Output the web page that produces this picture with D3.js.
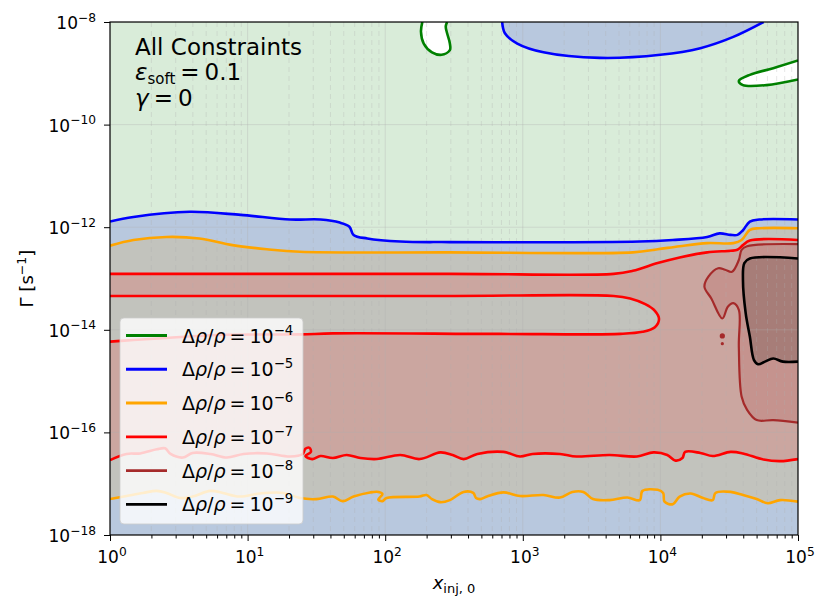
<!DOCTYPE html>
<html>
<head>
<meta charset="utf-8">
<script src="https://cdn.jsdelivr.net/npm/d3@7"></script>
<style>
  body { margin: 0; background: #fff; }
  text { font-family: "DejaVu Sans", sans-serif; fill: #000; }
</style>
</head>
<body>
<svg id="chart" width="830" height="611"></svg>
<script>
/* Contour levels of the energy-injection constraint map.
   Every contour point is [log10 x_inj,0 , log10 Gamma]. */

const levels = [-4, -5, -6, -7, -8, -9];
const levelColors = ['green', 'blue', 'orange', 'red', 'brown', 'black'];

const xTicks = [0, 1, 2, 3, 4, 5];
const yTicks = [-8, -10, -12, -14, -16, -18];

// 1e-4 : two small islands where the constraint is not reached
const greenLoopTop = [[2.27, -8.0], [2.26, -8.19], [2.28, -8.42], [2.34, -8.59], [2.41, -8.64],
  [2.47, -8.55], [2.47, -8.42], [2.45, -8.22], [2.44, -8.09], [2.45, -8.0]];
const greenLoopRight = [[5, -8.75], [4.82, -8.9], [4.65, -9.03], [4.57, -9.15], [4.6, -9.23],
  [4.77, -9.23], [5, -9.12]];

// 1e-5
const blueLine = [[0, -11.89], [0.17, -11.8], [0.58, -11.7], [0.95, -11.76], [1.31, -11.85],
  [1.53, -11.85], [1.67, -11.91], [1.74, -11.99], [1.77, -12.15], [1.87, -12.22], [2.11, -12.28],
  [2.47, -12.29], [3.85, -12.28], [4.09, -12.25], [4.34, -12.19], [4.43, -12.12], [4.51, -12.15],
  [4.56, -12.15], [4.6, -12.06], [4.65, -11.89], [4.72, -11.85], [5, -11.85]];
const blueCap = [[2.85, -8.0], [2.87, -8.22], [2.96, -8.42], [3.15, -8.59], [3.56, -8.7],
  [4.0, -8.64], [4.29, -8.51], [4.53, -8.29], [4.75, -8.0]];

// 1e-6
const orangeUpper = [[0, -12.36], [0.17, -12.25], [0.41, -12.19], [0.65, -12.22], [0.89, -12.35],
  [1.14, -12.43], [1.38, -12.48], [2.47, -12.49], [3.8, -12.49], [3.98, -12.43], [4.14, -12.37],
  [4.34, -12.31], [4.53, -12.31], [4.59, -12.25], [4.65, -12.05], [4.72, -12.02], [5, -12.02]];
const orangeLower = [[0, -17.3], [0.12, -17.24], [0.24, -17.18], [0.34, -17.14], [0.41, -17.18],
  [0.51, -17.28], [0.6, -17.25], [0.73, -17.14], [0.82, -17.18], [0.94, -17.25], [1.09, -17.19],
  [1.26, -17.18], [1.38, -17.28], [1.5, -17.3], [1.62, -17.25], [1.69, -17.34], [1.77, -17.25],
  [1.89, -17.17], [1.95, -17.16], [1.98, -17.2], [1.95, -17.31], [1.98, -17.34], [2.01, -17.28],
  [2.25, -17.25], [2.3, -17.22], [2.34, -17.3], [2.4, -17.36], [2.47, -17.32], [2.57, -17.16],
  [2.64, -17.18], [2.66, -17.28], [2.69, -17.3], [2.74, -17.25], [2.86, -17.17], [2.98, -17.24],
  [3.15, -17.22], [3.27, -17.27], [3.36, -17.16], [3.44, -17.16], [3.51, -17.3], [3.63, -17.32],
  [3.76, -17.27], [3.85, -17.32], [3.87, -17.14], [3.98, -17.12], [4.02, -17.18], [4.03, -17.35],
  [4.09, -17.4], [4.14, -17.25], [4.22, -17.19], [4.31, -17.28], [4.38, -17.32], [4.4, -17.18],
  [4.51, -17.16], [4.6, -17.22], [4.7, -17.3], [4.78, -17.38], [4.87, -17.32], [5, -17.35]];

// 1e-7
const redUpper = [[0, -12.91], [2.47, -12.91], [3.66, -12.91], [3.8, -12.85], [3.98, -12.7],
  [4.14, -12.59], [4.34, -12.49], [4.51, -12.46], [4.56, -12.44], [4.6, -12.35], [4.65, -12.26],
  [5, -12.25]];
const redTongue = [[0, -13.34], [2.47, -13.34], [3.66, -13.34], [3.78, -13.39], [3.89, -13.5],
  [3.96, -13.63], [3.99, -13.79], [3.96, -13.95], [3.87, -14.04], [3.71, -14.08], [2.83, -14.08],
  [1.62, -14.07], [1.38, -14.09], [0.78, -14.1], [0.41, -14.16], [0.17, -14.2], [0, -14.23]];
const redLower = [[0, -16.54], [0.12, -16.42], [0.22, -16.41], [0.34, -16.33], [0.4, -16.31],
  [0.44, -16.42], [0.53, -16.49], [0.6, -16.4], [0.73, -16.42], [0.85, -16.49], [0.97, -16.42],
  [1.14, -16.41], [1.31, -16.47], [1.4, -16.42], [1.42, -16.32], [1.45, -16.3], [1.46, -16.38],
  [1.42, -16.46], [1.47, -16.52], [1.53, -16.46], [1.62, -16.5], [1.72, -16.44], [1.82, -16.5],
  [1.94, -16.52], [2.11, -16.44], [2.25, -16.52], [2.4, -16.39], [2.49, -16.44], [2.57, -16.52],
  [2.67, -16.42], [2.86, -16.38], [2.98, -16.47], [3.07, -16.42], [3.27, -16.42], [3.39, -16.47],
  [3.63, -16.44], [3.83, -16.47], [3.95, -16.39], [4.05, -16.44], [4.11, -16.55], [4.16, -16.5],
  [4.18, -16.38], [4.29, -16.4], [4.38, -16.46], [4.51, -16.38], [4.6, -16.41], [4.75, -16.53],
  [4.87, -16.56], [5, -16.52]];

// 1e-8
const brownLine = [[5, -12.33], [4.63, -12.37], [4.59, -12.44], [4.57, -12.64], [4.52, -12.87],
  [4.47, -12.83], [4.42, -12.8], [4.35, -12.96], [4.32, -13.16], [4.37, -13.39], [4.45, -13.78],
  [4.49, -13.55], [4.53, -13.48], [4.57, -13.61], [4.57, -14.33], [4.59, -15.3], [4.63, -15.56],
  [4.7, -15.76], [4.82, -15.76], [5, -15.81]];
const brownSpots = [[4.45, -14.12], [4.45, -14.27]];

// 1e-9
const blackLine = [[5, -12.61], [4.65, -12.61], [4.61, -12.7], [4.6, -13.03], [4.62, -13.68],
  [4.65, -14.13], [4.68, -14.59], [4.71, -14.67], [4.76, -14.62], [4.82, -14.56], [4.89, -14.62],
  [5, -14.62]];

const W = 830, H = 611;
const margin = { left: 110, right: 32, top: 22, bottom: 76 };

const svg = d3.select('#chart');
const x = d3.scaleLog().domain([1, 1e5]).range([margin.left, W - margin.right]);
const y = d3.scaleLog().domain([1e-18, 1e-8]).range([H - margin.bottom, margin.top]);
const [x0, x1] = x.range();
const [y0, y1] = [y.range()[1], y.range()[0]];

const curve = d3.line()
  .x(d => x(10 ** d[0]))
  .y(d => y(10 ** d[1]))
  .curve(d3.curveCatmullRom.alpha(0.5));
const join = (a, b) => curve(a) + 'L' + curve(b).slice(1);
const rev = a => a.slice().reverse();

svg.append('defs').append('clipPath').attr('id', 'plot-clip')
  .append('rect').attr('x', x0).attr('y', y0).attr('width', x1 - x0).attr('height', y1 - y0);

const plot = svg.append('g').attr('clip-path', 'url(#plot-clip)');
const fillAlpha = 0.15;

// filled regions, stacked like contourf with alpha
const box = `M${x0},${y0}H${x1}V${y1}H${x0}Z`;
const fills = [
  { color: 'green', d: box + curve(greenLoopTop) + 'Z' + curve(greenLoopRight) + 'Z' },
  { color: 'blue', d: curve(blueCap) + 'Z' + curve(blueLine) + `L${x1},${y1}L${x0},${y1}Z` },
  { color: 'orange', d: join(orangeUpper, rev(orangeLower)) + 'Z' },
  { color: 'red', d: join(redUpper, rev(redLower)) + 'Z' + curve(redTongue) + 'Z' },
  { color: 'brown', d: curve(brownLine) + 'Z' },
  { color: 'black', d: curve(blackLine) + 'Z' },
];
plot.selectAll('path.fill').data(fills).join('path')
  .attr('class', 'fill')
  .attr('d', d => d.d)
  .attr('fill', d => d.color)
  .attr('fill-opacity', fillAlpha)
  .attr('fill-rule', 'evenodd');
plot.selectAll('circle.spot').data(brownSpots).join('circle')
  .attr('cx', d => x(10 ** d[0]))
  .attr('cy', d => y(10 ** d[1]))
  .attr('r', (d, i) => (i ? 1.6 : 2.6))
  .attr('fill', 'brown');

// grid
const minorX = [];
for (let e = 0; e < 5; e++) for (let m = 2; m < 10; m++) minorX.push(m * 10 ** e);
const grid = plot.append('g');
grid.selectAll('line.minor').data(minorX).join('line')
  .attr('x1', d => x(d)).attr('x2', d => x(d)).attr('y1', y0).attr('y2', y1)
  .attr('stroke', '#b0b0b0').attr('stroke-opacity', 0.3)
  .attr('stroke-dasharray', '5,4').attr('stroke-width', 1);
grid.selectAll('line.vx').data(xTicks).join('line')
  .attr('x1', d => x(10 ** d)).attr('x2', d => x(10 ** d)).attr('y1', y0).attr('y2', y1)
  .attr('stroke', '#b0b0b0').attr('stroke-opacity', 0.35);
grid.selectAll('line.hy').data(yTicks).join('line')
  .attr('y1', d => y(10 ** d)).attr('y2', d => y(10 ** d)).attr('x1', x0).attr('x2', x1)
  .attr('stroke', '#b0b0b0').attr('stroke-opacity', 0.35);

// contour lines
const lines = [
  { color: 'green', d: greenLoopTop }, { color: 'green', d: greenLoopRight },
  { color: 'blue', d: blueLine }, { color: 'blue', d: blueCap },
  { color: 'orange', d: orangeUpper }, { color: 'orange', d: orangeLower },
  { color: 'red', d: redUpper }, { color: 'red', d: redTongue }, { color: 'red', d: redLower },
  { color: 'brown', d: brownLine }, { color: 'black', d: blackLine },
];
plot.selectAll('path.level').data(lines).join('path')
  .attr('class', 'level')
  .attr('d', d => curve(d.d))
  .attr('fill', 'none')
  .attr('stroke', d => d.color)
  .attr('stroke-width', d => (d.color === 'brown' ? 2.2 : 2.6))
  .attr('stroke-linejoin', 'round');

// axes
function powerLabel(sel, exp, size) {
  sel.text(null);
  sel.append('tspan').text('10');
  sel.append('tspan')
    .attr('font-size', size * 0.72)
    .attr('dy', -size * 0.44)
    .text(exp < 0 ? '\u2212' + (-exp) : String(exp));
}

const tickFont = 17;
const xAxis = svg.append('g').attr('transform', `translate(0,${y1})`)
  .call(d3.axisBottom(x).tickValues(xTicks.map(e => 10 ** e)).tickSize(6).tickFormat(''));
xAxis.append('g').call(d3.axisBottom(x).tickValues(minorX).tickSize(3.5).tickFormat(''));
xAxis.selectAll('.domain').remove();
xAxis.selectAll('line').attr('stroke', '#000').attr('stroke-width', 1);
xAxis.selectAll('text.lab').data(xTicks).join('text')
  .attr('class', 'lab')
  .attr('x', d => x(10 ** d) + 2)
  .attr('y', 28)
  .attr('text-anchor', 'middle')
  .attr('font-size', tickFont)
  .each(function (d) { powerLabel(d3.select(this), d, tickFont); });

const yAxis = svg.append('g').attr('transform', `translate(${x0},0)`)
  .call(d3.axisLeft(y).tickValues(yTicks.map(e => 10 ** e)).tickSize(6).tickFormat(''));
yAxis.selectAll('.domain').remove();
yAxis.selectAll('line').attr('stroke', '#000').attr('stroke-width', 1);
yAxis.selectAll('text.lab').data(yTicks).join('text')
  .attr('class', 'lab')
  .attr('x', -14)
  .attr('y', d => y(10 ** d) + 7)
  .attr('text-anchor', 'end')
  .attr('font-size', tickFont)
  .each(function (d) { powerLabel(d3.select(this), d, tickFont); });

svg.append('rect')
  .attr('x', x0).attr('y', y0).attr('width', x1 - x0).attr('height', y1 - y0)
  .attr('fill', 'none').attr('stroke', '#000').attr('stroke-width', 1.2);

// axis titles
const xLab = svg.append('text')
  .attr('x', (x0 + x1) / 2).attr('y', 589)
  .attr('text-anchor', 'middle').attr('font-size', 18);
xLab.append('tspan').attr('font-style', 'italic').text('x');
xLab.append('tspan').attr('font-size', 13).attr('dy', 4).text('inj, 0');

const yLab = svg.append('text')
  .attr('transform', `translate(33,${(y0 + y1) / 2}) rotate(-90)`)
  .attr('text-anchor', 'middle').attr('font-size', 18);
yLab.append('tspan').text('\u0393 [s');
yLab.append('tspan').attr('font-size', 12.6).attr('dy', -7).text('\u22121');
yLab.append('tspan').attr('dy', 7).text(']');

// annotation
const note = svg.append('g').attr('font-size', 23);
note.append('text').attr('x', 135).attr('y', 55).text('All Constraints');
const eps = note.append('text').attr('x', 135).attr('y', 80);
eps.append('tspan').attr('font-style', 'italic').text('\u03b5');
eps.append('tspan').attr('font-size', 15).attr('dy', 4).text('soft');
eps.append('tspan').attr('dy', -4).attr('dx', 5).text('=');
eps.append('tspan').attr('dx', 5).text('0.1');
const gam = note.append('text').attr('x', 135).attr('y', 106);
gam.append('tspan').attr('font-style', 'italic').text('\u03b3');
gam.append('tspan').attr('dx', 5).text('=');
gam.append('tspan').attr('dx', 5).text('0');

// legend
const legendFont = 19;
const legend = svg.append('g');
legend.append('rect')
  .attr('x', 120).attr('y', 318).attr('width', 183).attr('height', 206).attr('rx', 4)
  .attr('fill', '#fff').attr('fill-opacity', 0.8)
  .attr('stroke', '#cccccc').attr('stroke-opacity', 0.8);
const rowY = d3.scaleLinear().domain([0, levels.length - 1]).range([335.5, 504.3]);
const rows = legend.selectAll('g.row').data(levels).join('g')
  .attr('class', 'row')
  .attr('transform', (d, i) => `translate(0,${rowY(i)})`);
rows.append('line')
  .attr('x1', 126).attr('x2', 167)
  .attr('stroke', (d, i) => levelColors[i]).attr('stroke-width', 2.8);
rows.append('text')
  .attr('x', 182).attr('y', 7).attr('font-size', legendFont)
  .each(function (d) {
    const t = d3.select(this);
    t.append('tspan').text('\u0394');
    t.append('tspan').attr('font-style', 'italic').text('\u03c1');
    t.append('tspan').text('/');
    t.append('tspan').attr('font-style', 'italic').text('\u03c1');
    t.append('tspan').attr('dx', 4).text('=');
    t.append('tspan').attr('dx', 4).text('10');
    t.append('tspan').attr('font-size', legendFont * 0.7).attr('dy', -legendFont * 0.42)
      .text('\u2212' + (-d));
  });
</script>
</body>
</html>
